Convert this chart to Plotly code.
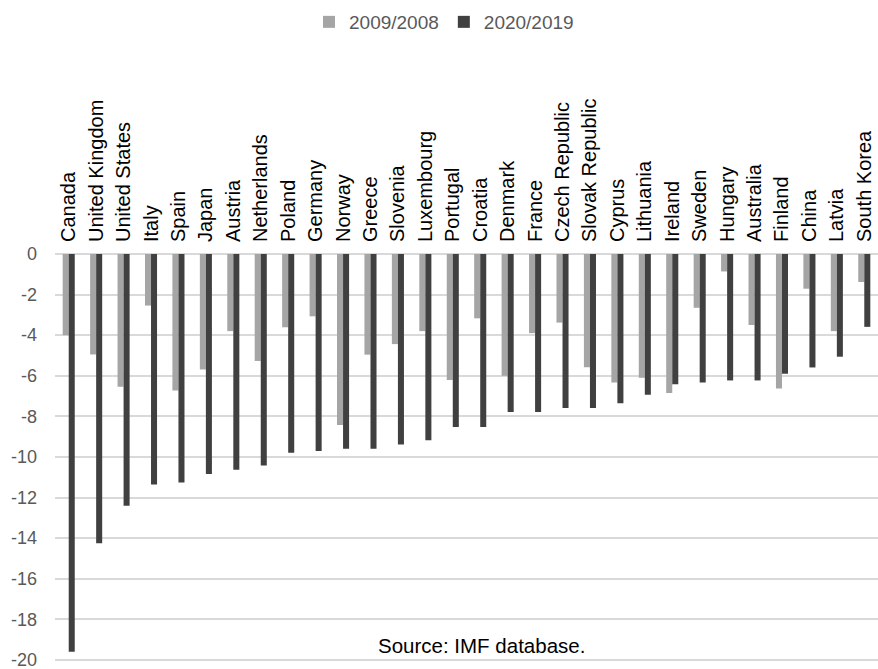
import plotly.graph_objects as go

countries = [
    "Canada", "United Kingdom", "United States", "Italy", "Spain", "Japan",
    "Austria", "Netherlands", "Poland", "Germany", "Norway", "Greece",
    "Slovenia", "Luxembourg", "Portugal", "Croatia", "Denmark", "France",
    "Czech Republic", "Slovak Republic", "Cyprus", "Lithuania", "Ireland",
    "Sweden", "Hungary", "Australia", "Finland", "China", "Latvia",
    "South Korea",
]

growth_2009 = [
    -4.0, -4.95, -6.54, -2.54, -6.73, -5.69, -3.80, -5.27, -3.61, -3.07,
    -8.42, -4.96, -4.44, -3.80, -6.21, -3.17, -6.00, -3.90, -3.38, -5.58,
    -6.33, -6.10, -6.85, -2.65, -0.86, -3.50, -6.63, -1.71, -3.80, -1.38,
]

growth_2020 = [
    -19.6, -14.25, -12.4, -11.36, -11.26, -10.84, -10.63, -10.42, -9.79,
    -9.71, -9.60, -9.60, -9.39, -9.18, -8.53, -8.52, -7.79, -7.79, -7.59,
    -7.59, -7.35, -6.94, -6.42, -6.33, -6.23, -6.23, -5.90, -5.59, -5.06,
    -3.59,
]

y_ticks = [0, -2, -4, -6, -8, -10, -12, -14, -16, -18, -20]
y_tick_labels = ["0", "-2", "-4", "-6", "-8", "-10", "-12", "-14", "-16", "-18", "-20"]

FONT = "Liberation Sans, Arial, Helvetica, sans-serif"

fig = go.Figure()
fig.add_trace(go.Bar(x=countries, y=growth_2009, name="2009/2008",
                     marker=dict(color="#a5a5a5", line=dict(width=0))))
fig.add_trace(go.Bar(x=countries, y=growth_2020, name="2020/2019",
                     marker=dict(color="#404040", line=dict(width=0))))

fig.update_layout(
    width=878, height=669,
    margin=dict(l=55, r=0, t=254, b=3),
    paper_bgcolor="white", plot_bgcolor="white",
    barmode="group", bargap=0.56, bargroupgap=0,
    font=dict(family=FONT, size=18, color="#595959"),
    showlegend=True,
    legend=dict(orientation="h", xref="container", yref="container",
                x=309 / 878, xanchor="left", y=1 - 22 / 669, yanchor="middle",
                font=dict(size=19, color="#595959"),
                itemwidth=30, traceorder="normal"),
    xaxis=dict(side="top", tickangle=-90, showgrid=False, showline=False,
               ticks="", ticklabelstandoff=11,
               tickfont=dict(size=20, color="#000000"),
               fixedrange=True),
    yaxis=dict(range=[-20.3, 0], tickvals=y_ticks, ticktext=y_tick_labels,
               showgrid=True, gridcolor="#d9d9d9", gridwidth=1.5,
               zeroline=True, zerolinecolor="#d9d9d9", zerolinewidth=1.5,
               showline=False, ticks="", ticklabelstandoff=17,
               ticklabeloverflow="allow",
               tickfont=dict(size=18, color="#595959")),
    annotations=[dict(text="Source: IMF database.", xref="paper", yref="y",
                      x=(481.5 - 55) / 823, y=-19.3, showarrow=False,
                      font=dict(size=20.5, color="#000000"))],
)

fig.write_html("out.html")
